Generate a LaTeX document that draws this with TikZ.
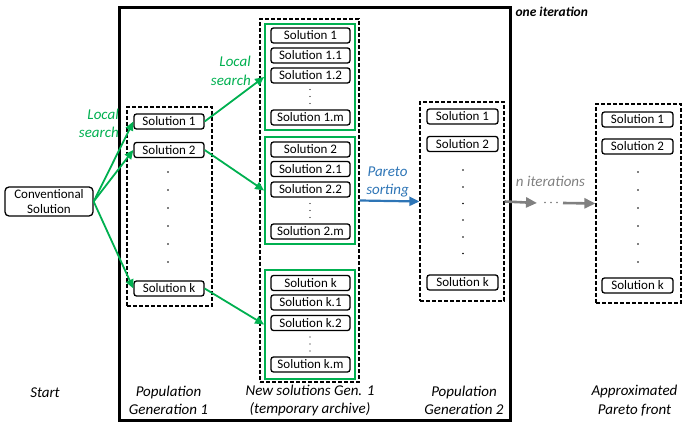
\documentclass[tikz,border=0pt]{standalone}
\usepackage{fontspec}
\setmainfont{Carlito}
\usetikzlibrary{arrows.meta}
\definecolor{mygreen}{RGB}{0,176,80}
\definecolor{myblue}{RGB}{46,117,182}
\definecolor{mygray}{RGB}{128,128,128}
\tikzset{
  sol/.style={draw, rounded corners=2.5pt, line width=1.3pt, fill=white, minimum height=15pt, inner sep=0pt, font=\fontsize{13}{13}\selectfont},
  dbox/.style={draw, line width=1.2pt, dash pattern=on 4pt off 2pt},
  gbox/.style={draw=mygreen, line width=1.8pt},
  garrow/.style={draw=mygreen, line width=1.8pt, -{Triangle[length=9pt,width=8pt]}},
  lbl/.style={font=\fontsize{15}{18.5}\selectfont\itshape, align=center},
  dotm/.style={circle, fill=black, inner sep=0pt, minimum size=1.6pt},
}
\begin{document}
\begin{tikzpicture}[x=1pt,y=-1pt]
\useasboundingbox (0,0) rectangle (686,427);
% frame
\draw[line width=3pt] (119,8) rectangle (510,420.5);
\node[anchor=west, font=\fontsize{13.5}{13.5}\selectfont\bfseries\itshape] (oneit) at (512,12) {one iteration};
% conventional
\node[draw, rounded corners=4pt, line width=1.3pt, minimum width=88pt, minimum height=29pt, inner sep=0pt, align=center, font=\fontsize{13}{15}\selectfont] (conv) at (49,201.5) {Conventional\\Solution};
% gen 1
\node[dbox, minimum width=85pt, minimum height=199pt, inner sep=0pt] (gen1) at (169.5,206.5) {};
\node[sol, minimum width=70pt] (a1) at (169,121.5) {Solution 1};
\node[sol, minimum width=70pt] (a2) at (169,150) {Solution 2};
\node[sol, minimum width=70pt] (ak) at (169,288.5) {Solution k};
\foreach \y [count=\i] in {172,190,208,226,244,262} \node[dotm] (ad\i) at (168,\y) {};
% temporary archive
\node[dbox, minimum width=99pt, minimum height=363pt, inner sep=0pt] (tmp) at (309.5,200.5) {};
\node[gbox, minimum width=90pt, minimum height=106pt, inner sep=0pt] (grp1) at (310,77) {};
\node[gbox, minimum width=90pt, minimum height=107pt, inner sep=0pt] (grp2) at (310,190.5) {};
\node[gbox, minimum width=90pt, minimum height=109pt, inner sep=0pt] (grp3) at (310,324.5) {};
\node[sol, minimum width=79pt] (b10) at (310.5,35.5) {Solution 1};
\node[sol, minimum width=79pt] (b11) at (310.5,55.5) {Solution 1.1};
\node[sol, minimum width=79pt] (b12) at (310.5,75.5) {Solution 1.2};
\node[sol, minimum width=79pt] (b1m) at (310.5,117.5) {Solution 1.m};
\node[sol, minimum width=79pt] (b20) at (310.5,149.5) {Solution 2};
\node[sol, minimum width=79pt] (b21) at (310.5,169) {Solution 2.1};
\node[sol, minimum width=79pt] (b22) at (310.5,189.5) {Solution 2.2};
\node[sol, minimum width=79pt] (b2m) at (310.5,231.5) {Solution 2.m};
\node[sol, minimum width=79pt] (b30) at (310.5,283) {Solution k};
\node[sol, minimum width=79pt] (b31) at (310.5,302.5) {Solution k.1};
\node[sol, minimum width=79pt] (b32) at (310.5,323) {Solution k.2};
\node[sol, minimum width=79pt] (b3m) at (310.5,364.5) {Solution k.m};
\foreach \c [count=\j] in {96.5,210.5,344} {
  \foreach \d [count=\i] in {-7,0,7} \node[dotm, minimum size=1.4pt] (bd\j\i) at (310,\c+\d) {};
}
% gen 2
\node[dbox, minimum width=84pt, minimum height=199pt, inner sep=0pt] (gen2) at (462,201.5) {};
\node[sol, minimum width=71pt] (c1) at (462.5,116.5) {Solution 1};
\node[sol, minimum width=71pt] (c2) at (462.5,144) {Solution 2};
\node[sol, minimum width=71pt] (ck) at (462.5,282.5) {Solution k};
\foreach \y [count=\i] in {170,187,203.5,220,237,253.5} \node[dotm] (cd\i) at (463,\y) {};
% final
\node[dbox, minimum width=85pt, minimum height=199pt, inner sep=0pt] (fin) at (638.5,203.5) {};
\node[sol, minimum width=71pt] (d1) at (637.5,119.5) {Solution 1};
\node[sol, minimum width=71pt] (d2) at (637.5,146.5) {Solution 2};
\node[sol, minimum width=71pt] (dk) at (637.5,285.5) {Solution k};
\foreach \y [count=\i] in {172,190,208,226,244,262} \node[dotm] (dd\i) at (638,\y) {};
% arrows
\draw[garrow] (conv.east) -- (a1.west);
\draw[garrow] (conv.east) -- (a2.west);
\draw[garrow] (conv.east) -- (ak.west);
\draw[garrow] (a1.east) -- (grp1.west);
\draw[garrow] (a2.east) -- (grp2.west);
\draw[garrow] (ak.east) -- (grp3.west);
\draw[draw=myblue, line width=2.2pt, -{Triangle[length=10pt,width=9pt]}] (tmp.east) -- (gen2.west);
\coordinate (g1) at (537,203);
\coordinate (g2) at (563,203);
\foreach \x [count=\i] in {545,551,557} \node[circle, fill=black!55, inner sep=0pt, minimum size=1.6pt] (gd\i) at (\x,202.5) {};
\draw[draw=mygray, line width=2.6pt, -{Triangle[length=11pt,width=10pt]}] (gen2.east) -- (g1);
\draw[draw=mygray, line width=2.6pt, -{Triangle[length=11pt,width=10pt]}] (g2) -- (fin.west);
% labels
\node[lbl, text=mygreen, align=right, anchor=east, inner sep=0pt] (ls1) at (119,123.5) {Local\\search};
\node[lbl, text=mygreen, align=right, anchor=east, inner sep=0pt] (ls2) at (251,71) {Local\\search};
\node[lbl, text=myblue] (ps) at (387.5,182) {Pareto\\sorting};
\node[lbl, text=mygray] (nit) at (550.5,181) {n iterations};
\node[lbl] (start) at (45,393) {Start};
\node[lbl] (l1) at (168.5,400.5) {Population\\Generation 1};
\node[lbl] (l2) at (310,400.5) {New solutions Gen. 1\\(temporary archive)};
\node[lbl] (l3) at (464,400.5) {Population\\Generation 2};
\node[lbl] (l4) at (634.5,400.5) {Approximated\\Pareto front};
\end{tikzpicture}
\end{document}
